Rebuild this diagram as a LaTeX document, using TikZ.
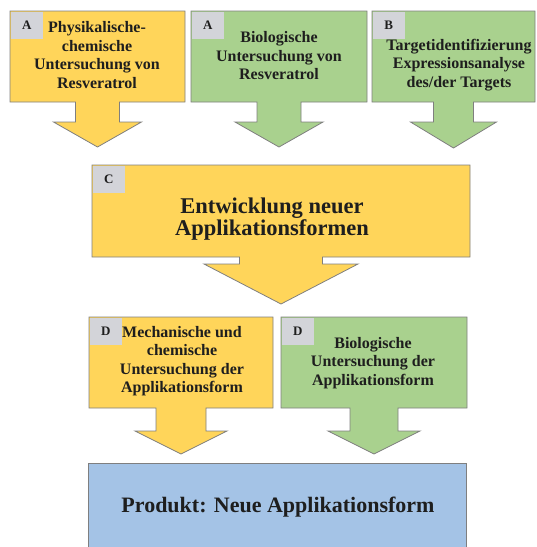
\documentclass[tikz,border=0pt]{standalone}
\usepackage{fontspec}
\setmainfont{Liberation Serif}
\usepackage{xcolor}
\definecolor{sunflower}{HTML}{FFD55A}
\definecolor{sage}{HTML}{A9D18E}
\definecolor{sky}{HTML}{A4C3E6}
\definecolor{tagfill}{HTML}{D3D4D9}
\definecolor{outline}{HTML}{7F7F7F}
\definecolor{ink}{HTML}{1E1E1E}

\begin{document}
\begin{tikzpicture}[x=1pt, y=-1pt,
	txt/.style={align=center, text=ink, inner sep=0pt, font=\fontsize{16}{18.5}\selectfont\bfseries},
	tag/.style={fill=tagfill, anchor=north west, minimum width=32, minimum height=27, inner sep=0pt, text=ink, font=\fontsize{13}{15}\selectfont\bfseries}]
	\useasboundingbox (0,0) rectangle (537,547);
	\clip (0,0) rectangle (537,547);
	% boxes with their arrows: left/right/top/bottom/stem/head/stem end/tip/colour
	\foreach \lx/\rx/\ty/\by/\sw/\hw/\se/\tp/\col in {
		10/185/11/102/22/44/122/147/sunflower,
		191/367/11/102/22/44/122/147/sage,
		372/535/11/102/20/43/122/148/sage,
		92/470/165/257/41.5/77/264/304/sunflower,
		89/273/317/408/25/46/431/454/sunflower,
		281/467/317/408/24/46/431/454/sage}{
		\pgfmathsetmacro{\mx}{(\lx+\rx)/2}
		\filldraw[fill=\col, draw=outline, line width=0.8pt] 
			(\lx,\ty) -- (\rx,\ty) -- (\rx,\by) -- (\mx+\sw,\by) -- (\mx+\sw,\se) -- (\mx+\hw,\se) 
			-- (\mx,\tp) -- (\mx-\hw,\se) -- (\mx-\sw,\se) -- (\mx-\sw,\by) -- (\lx,\by) -- cycle; 
	}
	\node[tag] (tagphys) at (10.5,11.5) {A};
	\node[tag] (tagbio) at (191.5,11.5) {A};
	\node[tag] (tagtarget) at (372.5,11.5) {B};
	\node[tag] (tagform) at (92.5,165.5) {C};
	\node[tag] (tagmech) at (89.5,317.5) {D};
	\node[tag] (tagbioform) at (281.5,317.5) {D};
	\node[txt] (phys) at (97,55) {Physikalische-\\chemische\\Untersuchung von\\Resveratrol};
	\node[txt] (bio) at (279,56) {Biologische\\Untersuchung von\\Resveratrol};
	\node[txt] (target) at (459,65) {Targetidentifizierung\\Expressionsanalyse\\des/der Targets};
	\node[txt, font=\fontsize{22.5}{22}\selectfont\bfseries] (form) at (272,219) {Entwicklung neuer\\Applikationsformen};
	\node[txt] (mech) at (182,361) {Mechanische und\\chemische\\Untersuchung der\\Applikationsform};
	\node[txt] (bioform) at (373,363) {Biologische\\Untersuchung der\\Applikationsform};
	% product
	\node[draw=outline, fill=sky, line width=0.8pt, anchor=north west, minimum width=378, minimum height=100] (prod) at (88,463) {};
	\node[txt, font=\fontsize{22}{24}\selectfont\bfseries] (prodtext) at (278,507) {Produkt: Neue Applikationsform};
\end{tikzpicture}
\end{document}
